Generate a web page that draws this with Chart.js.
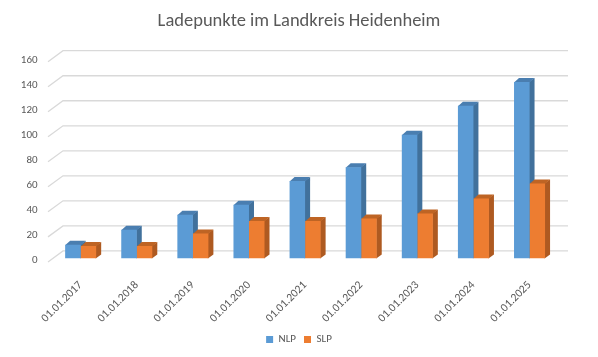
<!DOCTYPE html>
<html>
<head>
<meta charset="utf-8">
<script src="https://cdn.jsdelivr.net/npm/chart.js@4.4.1/dist/chart.umd.min.js"></script>
<style>
html,body{margin:0;padding:0;background:#fff;}
#wrap{width:598px;height:357px;position:relative;}
</style>
</head>
<body>
<div id="wrap"><canvas id="c" width="598" height="357"></canvas></div>
<script>
// ---- data ----
const chartTitle = 'Ladepunkte im Landkreis Heidenheim';
const categories = ['01.01.2017','01.01.2018','01.01.2019','01.01.2020','01.01.2021','01.01.2022','01.01.2023','01.01.2024','01.01.2025'];
const seriesNames = ['NLP','SLP'];
const nlpValues = [11, 23, 35, 43, 62, 73, 99, 122, 141];
const slpValues = [10, 10, 20, 30, 30, 32, 36, 48, 60];
const yTicks = [0, 20, 40, 60, 80, 100, 120, 140, 160];

// ---- styling ----
const FONT = 'Carlito, Lato, sans-serif';
const TEXT = '#595959';
const FRONT = ['#5B9BD5', '#ED7D31'];
const SIDE  = ['#41719C', '#AE5A21'];
const TOP   = ['#4A7EB0', '#BE6424'];
const WALL_FRONT = {dx: -4.6, dy: 3.4};
const WALL_BACK  = {dx: 10.4, dy: -7.6};
const BAR_DEPTH  = {dx: 5, dy: -4};

const threeD = {
  id: 'threeD',
  beforeDatasetsDraw(chart) {
    const ctx = chart.ctx, area = chart.chartArea, ys = chart.scales.y;
    ctx.save();
    ctx.strokeStyle = '#D9D9D9';
    ctx.lineWidth = 1.3;
    yTicks.forEach(v => {
      const y = ys.getPixelForValue(v);
      ctx.beginPath();
      ctx.moveTo(area.left + WALL_FRONT.dx, y + WALL_FRONT.dy);
      ctx.lineTo(area.left + WALL_BACK.dx, y + WALL_BACK.dy);
      ctx.lineTo(area.right + WALL_BACK.dx, y + WALL_BACK.dy);
      ctx.stroke();
    });
    chart.data.datasets.forEach((ds, i) => {
      const meta = chart.getDatasetMeta(i);
      meta.data.forEach(bar => {
        const p = bar.getProps(['x', 'y', 'base', 'width'], true);
        const l = p.x - p.width / 2, r = p.x + p.width / 2;
        const dx = BAR_DEPTH.dx, dy = BAR_DEPTH.dy;
        ctx.fillStyle = SIDE[i];
        ctx.beginPath();
        ctx.moveTo(r - 0.5, p.y);
        ctx.lineTo(r + dx, p.y + dy);
        ctx.lineTo(r + dx, p.base + dy);
        ctx.lineTo(r - 0.5, p.base);
        ctx.closePath();
        ctx.fill();
        ctx.fillStyle = TOP[i];
        ctx.beginPath();
        ctx.moveTo(l, p.y + 0.5);
        ctx.lineTo(l + dx, p.y + dy);
        ctx.lineTo(r + dx, p.y + dy);
        ctx.lineTo(r, p.y + 0.5);
        ctx.closePath();
        ctx.fill();
      });
    });
    ctx.restore();
  }
};

new Chart(document.getElementById('c'), {
  type: 'bar',
  data: {
    labels: categories,
    datasets: [
      {label: seriesNames[0], data: nlpValues, backgroundColor: FRONT[0], borderWidth: 0},
      {label: seriesNames[1], data: slpValues, backgroundColor: FRONT[1], borderWidth: 0}
    ]
  },
  options: {
    responsive: false,
    animation: false,
    devicePixelRatio: 1,
    layout: {padding: {left: 0, right: 0, top: 0, bottom: 2}},
    datasets: {bar: {categoryPercentage: 0.553, barPercentage: 1}},
    plugins: {
      title: {
        display: true, text: chartTitle, color: TEXT,
        font: {family: FONT, size: 18.5, weight: 'normal'},
        padding: {top: 10.5, bottom: 25.6}
      },
      legend: {
        position: 'bottom',
        labels: {color: TEXT, boxWidth: 7, boxHeight: 7, padding: 8, font: {family: FONT, size: 11}}
      },
      tooltip: {enabled: false}
    },
    scales: {
      x: {
        grid: {display: false, drawTicks: false},
        border: {display: false},
        ticks: {color: TEXT, font: {family: FONT, size: 11.5}, minRotation: 45, maxRotation: 45, padding: 20, autoSkip: false},
        afterFit(s) { s.height = 67.5; }
      },
      y: {
        min: 0, max: 160,
        grid: {display: false, drawTicks: false},
        border: {display: false},
        ticks: {stepSize: 20, color: TEXT, font: {family: FONT, size: 11}, padding: 15, labelOffset: 2},
        afterFit(s) { s.width = 52.6; }
      },
      yRight: {
        position: 'right',
        display: true,
        grid: {display: false, drawTicks: false},
        border: {display: false},
        ticks: {display: false},
        afterFit(s) { s.width = 40.4; }
      }
    }
  },
  plugins: [threeD]
});
</script>
</body>
</html>
